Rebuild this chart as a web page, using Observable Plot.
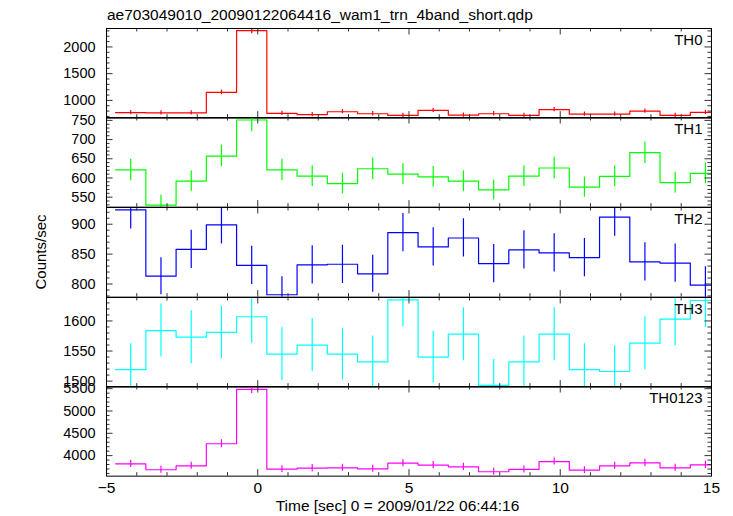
<!DOCTYPE html>
<html>
<head>
<meta charset="utf-8">
<script src="https://cdn.jsdelivr.net/npm/d3@7"></script>
<script src="https://cdn.jsdelivr.net/npm/@observablehq/plot@0.6"></script>
<style>
  body { margin: 0; background: #fff; font-family: "Liberation Sans", Arial, Helvetica, sans-serif; }
  #wrap { position: relative; width: 733px; height: 516px; overflow: hidden; background: #fff; }
  .lbl { position: absolute; white-space: nowrap; color: #000; }
  .panel { position: absolute; left: 0; }
</style>
</head>
<body>
<div id="wrap"></div>
<script>
// ---- data ----
const title = "ae703049010_20090122064416_wam1_trn_4band_short.qdp";
const xTitle = "Time [sec] 0 = 2009/01/22 06:44:16";
const yTitle = "Counts/sec";

const times = [-4.2, -3.2, -2.2, -1.2, -0.2, 0.8, 1.8, 2.8, 3.8, 4.8, 5.8, 6.8, 7.8, 8.8, 9.8, 10.8, 11.8, 12.8, 13.8, 14.8];
const binWidth = 1.0;

const bands = ["TH0", "TH1", "TH2", "TH3", "TH0123"];
const colors = ["#ff0000", "#00ff00", "#0000ff", "#00ffff", "#ff00ff"];

const th0 = [770, 765, 765, 1150, 2305, 756, 732, 788, 750, 718, 812, 725, 750, 718, 826, 743, 743, 800, 718, 775];
const th0Err = [40, 40, 40, 45, 60, 40, 40, 40, 40, 40, 40, 40, 40, 40, 40, 40, 40, 40, 40, 40];
const th1 = [621, 529, 592, 657, 751, 621, 605, 585, 624, 610, 603, 592, 569, 605, 626, 576, 604, 666, 588, 612];
const th1Err = [28, 26, 27, 28, 30, 28, 27, 27, 28, 27, 27, 27, 26, 27, 28, 26, 27, 28, 27, 27];
const th2 = [924, 813, 858, 899, 831, 782, 832, 833, 817, 886, 862, 877, 834, 857, 852, 844, 912, 837, 835, 798];
const th2Err = [32, 31, 32, 32, 32, 30, 32, 32, 31, 32, 32, 32, 32, 32, 32, 32, 32, 32, 32, 31];
const th3 = [1519, 1584, 1573, 1581, 1607, 1545, 1560, 1545, 1532, 1635, 1540, 1578, 1493, 1532, 1578, 1519, 1516, 1563, 1603, 1634];
const th3Err = [43, 44, 44, 44, 44, 44, 44, 43, 43, 45, 43, 44, 43, 43, 44, 43, 43, 44, 44, 45];
const th0123 = [3816, 3683, 3772, 4266, 5485, 3697, 3719, 3727, 3705, 3830, 3786, 3749, 3639, 3690, 3867, 3675, 3772, 3838, 3727, 3794];
const th0123Err = [80, 78, 80, 88, 95, 78, 80, 80, 80, 80, 80, 80, 78, 78, 80, 78, 80, 80, 80, 80];

const values = [th0, th1, th2, th3, th0123];
const errors = [th0Err, th1Err, th2Err, th3Err, th0123Err];

const yDomains = [[668, 2345], [524, 757.5], [778, 928], [1490, 1639], [3540, 5549]];
const yMajor = [[1000, 1500, 2000], [550, 600, 650, 700, 750], [800, 850, 900], [1500, 1550, 1600], [4000, 4500, 5000, 5500]];
const yMinorStep = [100, 10, 10, 10, 100];
const xDomain = [-5, 15];
const xMajor = [-5, 0, 5, 10, 15];
const xMinorStep = 1;

// ---- layout ----
const W = 733, mL = 106, mR = 22;
const frameW = W - mL - mR;
const panelTop0 = 27.7, panelH = 89.65;
const majorLen = 6.5, minorLen = 3.5;
const tickColor = "#333";
const font = '"Liberation Sans", Arial, Helvetica, sans-serif';
const fmtX = d => d < 0 ? "\u2212" + Math.abs(d) : String(d);
const fmtY = d => String(d);

const wrap = document.getElementById("wrap");

function addLabel(text, css) {
  const el = document.createElement("div");
  el.className = "lbl";
  el.textContent = text;
  Object.assign(el.style, css);
  wrap.appendChild(el);
  return el;
}

bands.forEach((band, i) => {
  const last = i === bands.length - 1;
  const rows = times.map((t, k) => ({t, v: values[i][k], e: errors[i][k]}));
  const stepPts = rows.flatMap(d => [{x: d.t - binWidth / 2, y: d.v}, {x: d.t + binWidth / 2, y: d.v}]);
  const [lo, hi] = yDomains[i];
  const st = yMinorStep[i];
  const yMinor = d3.range(Math.ceil(lo / st) * st, hi, st).filter(v => !yMajor[i].includes(v));
  const xMinor = d3.range(xDomain[0], xDomain[1] + 0.001, xMinorStep).filter(v => !xMajor.includes(v));
  const mB = last ? 40 : 0;

  const marks = [
    Plot.line(stepPts, {x: "x", y: "y", stroke: colors[i], strokeWidth: 1.2, clip: true}),
    Plot.ruleX(rows, {x: "t", y1: d => d.v - d.e, y2: d => d.v + d.e, stroke: colors[i], strokeWidth: 1.2, clip: true}),
    // x ticks (top & bottom, inward)
    Plot.tickX(xMajor, {x: d => d, insetBottom: panelH - majorLen, stroke: tickColor}),
    Plot.tickX(xMajor, {x: d => d, insetTop: panelH - majorLen, stroke: tickColor}),
    Plot.tickX(xMinor, {x: d => d, insetBottom: panelH - minorLen, stroke: tickColor}),
    Plot.tickX(xMinor, {x: d => d, insetTop: panelH - minorLen, stroke: tickColor}),
    // y ticks (left & right, inward)
    Plot.tickY(yMajor[i], {y: d => d, insetRight: frameW - majorLen, stroke: tickColor}),
    Plot.tickY(yMajor[i], {y: d => d, insetLeft: frameW - majorLen, stroke: tickColor}),
    Plot.tickY(yMinor, {y: d => d, insetRight: frameW - minorLen, stroke: tickColor}),
    Plot.tickY(yMinor, {y: d => d, insetLeft: frameW - minorLen, stroke: tickColor}),
    Plot.frame({stroke: "black", strokeWidth: 1}),
    Plot.axisY(yMajor[i], {tickSize: 0, tickPadding: 11, label: null, fontSize: 14.5, fill: "black", tickFormat: fmtY}),
    Plot.text([band], {text: d => d, frameAnchor: "top-right", dx: -9, dy: 5.5, lineAnchor: "top", textAnchor: "end", fontSize: 15, fill: "black"})
  ];
  if (last) {
    marks.push(Plot.axisX(xMajor, {tickSize: 0, tickPadding: 6, label: null, fontSize: 15.5, tickFormat: fmtX, fill: "black"}));
  }

  const chart = Plot.plot({
    width: W,
    height: panelH + mB,
    marginLeft: mL,
    marginRight: mR,
    marginTop: 0,
    marginBottom: mB,
    style: {background: "transparent", overflow: "visible", fontFamily: font, fontSize: "15px", color: "black"},
    x: {domain: xDomain, axis: last ? undefined : null},
    y: {domain: yDomains[i]},
    marks
  });
  const holder = document.createElement("div");
  holder.className = "panel";
  holder.style.top = (panelTop0 + i * panelH) + "px";
  holder.appendChild(chart);
  wrap.appendChild(holder);
});

// title, axis titles
addLabel(title, {left: "107px", top: "7px", fontSize: "15.5px", lineHeight: "15.5px"});
addLabel(xTitle, {left: "397.5px", top: "498px", fontSize: "15.5px", lineHeight: "15.5px", transform: "translateX(-50%)"});
addLabel(yTitle, {left: "40px", top: "252px", fontSize: "15px", lineHeight: "15px", transform: "translate(-50%, -50%) rotate(-90deg)"});
</script>
</body>
</html>
